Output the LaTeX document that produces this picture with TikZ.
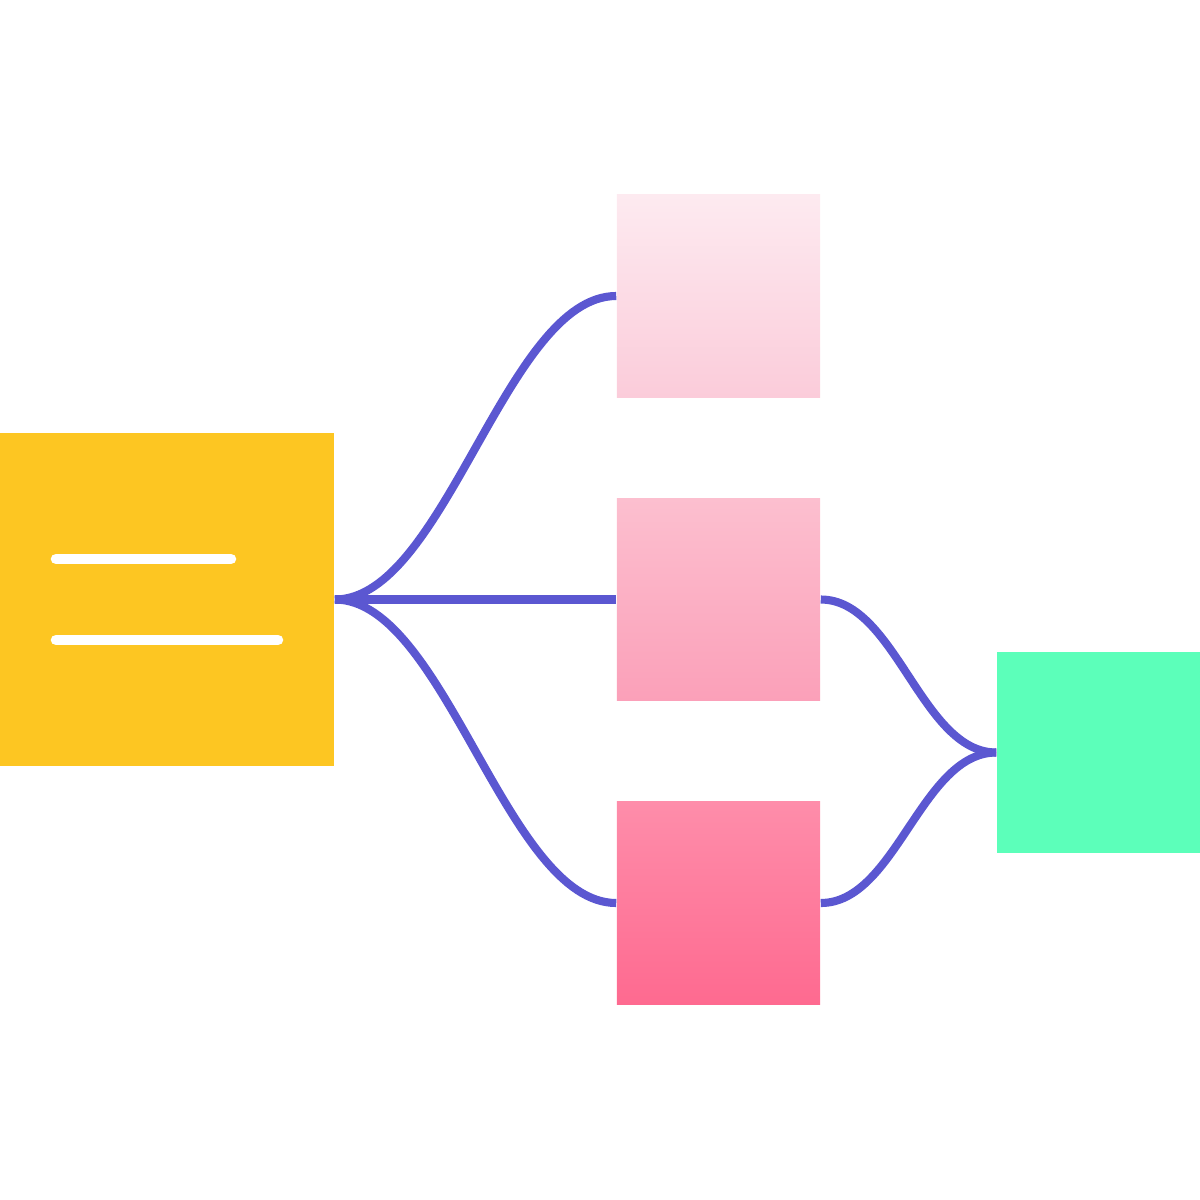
\documentclass[tikz,border=0pt]{standalone}
\usetikzlibrary{positioning}
\definecolor{docyellow}{HTML}{FDC622}
\definecolor{linkblue}{HTML}{5B57D1}
\definecolor{outgreen}{HTML}{5CFFBA}
\definecolor{pinkA}{HTML}{FDEAF0}
\definecolor{pinkB}{HTML}{FBCCDA}
\definecolor{pinkC}{HTML}{FCBFCF}
\definecolor{pinkD}{HTML}{FBA0B9}
\definecolor{pinkE}{HTML}{FE8DAA}
\definecolor{pinkF}{HTML}{FE6A90}
\tikzset{
  box/.style={inner sep=0pt, minimum width=2.03cm, minimum height=2.02cm},
  link/.style={draw=linkblue, line width=2.3pt},
  textline/.style={draw=white, line width=3pt, line cap=round}
}
\begin{document}
\begin{tikzpicture}[x=0.01cm, y=-0.01cm]
    \useasboundingbox (0,0) rectangle (1200,1200);

    % Source document
    \node[box, fill=docyellow, minimum width=3.34cm, minimum height=3.33cm] (doc) at (167,599.5) {};
    \draw[textline] (56,559) -- (231,559);
    \draw[textline] (56,640) -- (278,640);

    % Pink cards
    \node[box, top color=pinkA, bottom color=pinkB] (card1) at (718.5,296) {};
    \node[box, top color=pinkC, bottom color=pinkD] (card2) at (718.5,599.5) {};
    \node[box, top color=pinkE, bottom color=pinkF] (card3) at (718.5,903) {};

    % Result
    \node[box, fill=outgreen, minimum height=2.01cm] (result) at (1098.5,752.5) {};

    % Connectors
    \draw[link] (doc.east) .. controls +(110,0) and +(-110,0) .. (card1.west);
    \draw[link] (doc.east) -- (card2.west);
    \draw[link] (doc.east) .. controls +(110,0) and +(-110,0) .. (card3.west);
    \draw[link] (card2.east) .. controls +(75,0) and +(-75,0) .. (result.west);
    \draw[link] (card3.east) .. controls +(75,0) and +(-75,0) .. (result.west);
\end{tikzpicture}
\end{document}
